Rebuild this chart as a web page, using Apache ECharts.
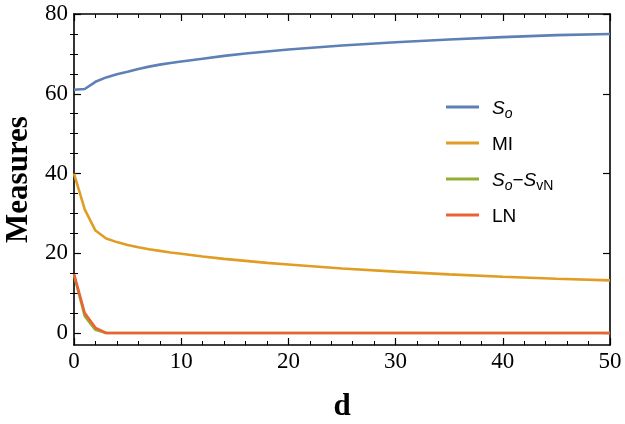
<!DOCTYPE html>
<html><head><meta charset="utf-8">
<script src="https://cdn.jsdelivr.net/npm/echarts@6/dist/echarts.min.js"></script>
<style>html,body{margin:0;padding:0;background:#fff}#c{width:625px;height:424px}</style>
</head><body><div id="c"></div>
<script>
const dValues = [0,1,2,3,4,5,6,7,8,9,10,12,14,16,18,20,25,30,35,40,45,50];
const soValues = [61.0,61.2,63.0,64.1,64.9,65.5,66.2,66.8,67.3,67.7,68.1,68.8,69.5,70.1,70.6,71.1,72.1,72.9,73.6,74.2,74.7,75.0];
const miValues = [40.0,31.0,25.7,23.7,22.8,22.1,21.5,21.0,20.6,20.2,19.9,19.2,18.6,18.1,17.6,17.2,16.2,15.4,14.7,14.1,13.6,13.2];
const diffValues = [14.6,4.2,0.8,0,0,0,0,0,0,0,0,0,0,0,0,0,0,0,0,0,0,0];
const lnValues = [14.8,5.0,1.3,0,0,0,0,0,0,0,0,0,0,0,0,0,0,0,0,0,0,0];
const yMajorTicks = [0,20,40,60,80];
const yMinorTicks = [5,10,15,25,30,35,45,50,55,65,70,75];
const xMajorTicks = [0,10,20,30,40,50];

const names = ['So','MI','SoSvN','LN'];
const colors = ['#5E81B5','#E19C24','#8FB032','#EB6235'];
const legendLabels = {
  So: '{i|S}{si|o}',
  MI: '{n|MI}',
  SoSvN: '{i|S}{si|o}{n|−}{i|S}{s|vN}',
  LN: '{n|LN}'
};
const fam = '"Liberation Sans", Arial, sans-serif';
const rich = {
  n: {fontFamily: fam, fontSize: 19, color:'#000', lineHeight: 22, verticalAlign:'bottom'},
  i: {fontFamily: fam, fontSize: 19, fontStyle:'italic', color:'#000', lineHeight: 22, verticalAlign:'bottom'},
  si: {fontFamily: fam, fontSize: 14, fontStyle:'italic', color:'#000', lineHeight: 14, verticalAlign:'bottom', padding:[0,0,-3,0]},
  s: {fontFamily: fam, fontSize: 14, color:'#000', lineHeight: 14, verticalAlign:'bottom', padding:[0,0,-3,0]}
};
const legendCenters = [107,143,179,215];

const pair = arr => dValues.map((d,i)=>[d, arr[i]]);
const seriesData = [soValues, miValues, diffValues, lnValues];

const serif = '"Liberation Serif", "Times New Roman", serif';
const chart = echarts.init(document.getElementById('c'));
const yBase = {type:'value', min:-3, max:80, gridIndex:0};
chart.setOption({
  animation:false,
  grid:{left:74, right:15, top:14, bottom:79, containLabel:false, outerBoundsMode:'none'},
  legend: names.map((n,k)=>({
    data:[n], orient:'vertical', left:441, top:legendCenters[k]-13,
    icon:'rect', itemWidth:33, itemHeight:3,
    formatter: name => legendLabels[name],
    textStyle:{rich, padding:[0,0,0,8]},
    selectedMode:false
  })),
  xAxis:[
    {type:'value', min:0, max:50, interval:10, position:'bottom',
     name:'d', nameLocation:'middle', nameGap:46,
     nameTextStyle:{fontFamily:serif, fontWeight:'bold', fontSize:31, color:'#000'},
     axisLine:{show:true, onZero:false, lineStyle:{color:'#000', width:1.6}},
     axisTick:{show:true, inside:true, length:7, lineStyle:{color:'#000', width:1.2}},
     minorTick:{show:true, splitNumber:5, length:4, lineStyle:{color:'#000', width:1}},
     axisLabel:{fontFamily:serif, fontSize:23, color:'#000', margin:5,
       customValues: xMajorTicks, showMinLabel:true, showMaxLabel:true},
     splitLine:{show:false}},
    {type:'value', min:0, max:50, interval:10, position:'top',
     axisLine:{show:true, onZero:false, lineStyle:{color:'#000', width:1.6}},
     axisTick:{show:true, inside:true, length:7, lineStyle:{color:'#000', width:1.2}},
     minorTick:{show:true, splitNumber:5, length:4, lineStyle:{color:'#000', width:1}},
     axisLabel:{show:false}, splitLine:{show:false}}
  ],
  yAxis:[
    Object.assign({}, yBase, {position:'left',
     name:'Measures', nameLocation:'middle', nameGap:40, nameRotate:90,
     nameTextStyle:{fontFamily:serif, fontWeight:'bold', fontSize:31, color:'#000'},
     axisLine:{show:true, onZero:false, lineStyle:{color:'#000', width:1.6}},
     axisTick:{show:true, inside:true, length:7, customValues:yMajorTicks, lineStyle:{color:'#000', width:1.2}},
     axisLabel:{fontFamily:serif, fontSize:23, color:'#000', margin:6, customValues:yMajorTicks},
     splitLine:{show:false}}),
    Object.assign({}, yBase, {position:'left',
     axisLine:{show:false},
     axisTick:{show:true, inside:true, length:4, customValues:yMinorTicks, lineStyle:{color:'#000', width:1}},
     axisLabel:{show:false}, splitLine:{show:false}}),
    Object.assign({}, yBase, {position:'right',
     axisLine:{show:true, onZero:false, lineStyle:{color:'#000', width:1.6}},
     axisTick:{show:true, inside:true, length:7, customValues:yMajorTicks, lineStyle:{color:'#000', width:1.2}},
     axisLabel:{show:false}, splitLine:{show:false}}),
    Object.assign({}, yBase, {position:'right',
     axisLine:{show:false},
     axisTick:{show:true, inside:true, length:4, customValues:yMinorTicks, lineStyle:{color:'#000', width:1}},
     axisLabel:{show:false}, splitLine:{show:false}})
  ],
  series: names.map((n,k)=>({
    name:n, type:'line', data:pair(seriesData[k]), xAxisIndex:0, yAxisIndex:0,
    showSymbol:false, symbol:'none', smooth:false, clip:true,
    lineStyle:{color:colors[k], width:2.6}, itemStyle:{color:colors[k]}, z:2+k
  }))
});
</script></body></html>
